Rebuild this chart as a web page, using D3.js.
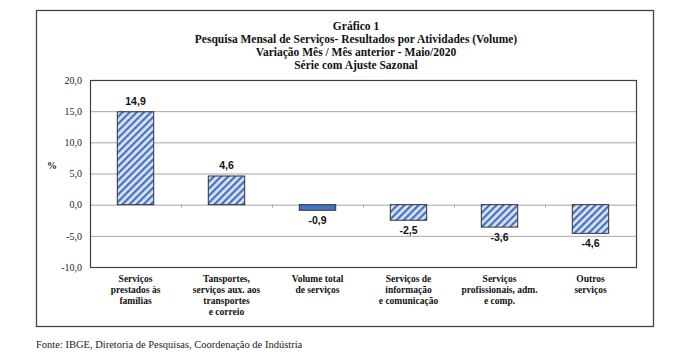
<!DOCTYPE html>
<html><head><meta charset="utf-8">
<script src="https://cdn.jsdelivr.net/npm/d3@7"></script>
<style>body{margin:0;background:#fff}svg{display:block}</style>
</head><body>
<svg id="c" width="680" height="364"></svg>
<script>
const categories = [
  ["Serviços","prestados às","famílias"],
  ["Tansportes,","serviços aux. aos","transportes","e correio"],
  ["Volume total","de serviços"],
  ["Serviços de","informação","e comunicação"],
  ["Serviços","profissionais, adm.","e comp."],
  ["Outros","serviços"]
];
const values = [14.9, 4.6, -0.9, -2.5, -3.6, -4.6];
const highlighted = [false, false, true, false, false, false];
const yTicks = [20, 15, 10, 5, 0, -5, -10];
const titleLines = ["Gráfico 1","Pesquisa Mensal de Serviços- Resultados por Atividades (Volume)","Variação Mês / Mês anterior - Maio/2020","Série com  Ajuste Sazonal"];
const source = "Fonte: IBGE, Diretoria de Pesquisas, Coordenação de Indústria";

const svg = d3.select("#c");
const serif = "'Liberation Serif','DejaVu Serif',serif";
const sans = "'Liberation Sans',Arial,sans-serif";
const fmt = v => d3.format(".1f")(v).replace(".", ",").replace("−","-");

// hatch pattern
const defs = svg.append("defs");
const pat = defs.append("pattern").attr("id","hatch").attr("patternUnits","userSpaceOnUse")
  .attr("width",5).attr("height",5).attr("patternTransform","rotate(45)");
pat.append("rect").attr("width",5).attr("height",5).attr("fill","#dbe2f0");
pat.append("rect").attr("x",0).attr("width",2.2).attr("height",5).attr("fill","#4472c4");

// outer frame
svg.append("rect").attr("x",36.5).attr("y",10.5).attr("width",617).attr("height",316)
  .attr("fill","none").attr("stroke","#444").attr("stroke-width",1.3);

// title
svg.append("g").selectAll("text").data(titleLines).join("text")
  .attr("x",356).attr("y",(d,i)=>29.5+i*13.3).attr("text-anchor","middle")
  .attr("font-family",serif).attr("font-weight","bold").attr("font-size",11.5).attr("fill","#111")
  .text(d=>d);

const L=90, R=636, T=80, B=267;
const x = d3.scaleBand().domain(d3.range(values.length)).range([L,R]).paddingInner(0.6).paddingOuter(0.3);
const xc = d3.scaleBand().domain(d3.range(values.length)).range([L,R]);
const y = d3.scaleLinear().domain([-10,20]).range([B,T]);

// gridlines
svg.append("g").selectAll("line").data(yTicks.filter(t=>t!==20 && t!==-10)).join("line")
  .attr("x1",L).attr("x2",R).attr("y1",d=>y(d)+0.5).attr("y2",d=>y(d)+0.5)
  .attr("stroke","#a6a6a6").attr("stroke-width",1);

// category tick marks on zero line
svg.append("g").selectAll("line").data(d3.range(1,values.length)).join("line")
  .attr("x1",d=>xc(d)+0.5).attr("x2",d=>xc(d)+0.5).attr("y1",y(0)).attr("y2",y(0)+3)
  .attr("stroke","#a6a6a6");

// plot border
svg.append("rect").attr("x",L+0.5).attr("y",T+0.5).attr("width",R-L).attr("height",B-T)
  .attr("fill","none").attr("stroke","#404040").attr("stroke-width",1.2);

// y axis labels
const yAxis = d3.axisLeft(y).tickValues(yTicks).tickSize(0).tickPadding(0).tickFormat(fmt);
const ya = svg.append("g").attr("transform",`translate(${82},0)`).call(yAxis);
ya.select(".domain").remove();
ya.selectAll("text").attr("font-family",serif).attr("font-size",10).attr("fill","#222");

svg.append("text").attr("x",52).attr("y",169).attr("text-anchor","middle")
  .attr("font-family",serif).attr("font-weight","bold").attr("font-size",10).attr("fill","#222").text("%");

// bars
svg.append("g").selectAll("rect").data(values).join("rect")
  .attr("x",(d,i)=>x(i)).attr("width",x.bandwidth())
  .attr("y",d=>y(Math.max(0,d))).attr("height",d=>Math.abs(y(d)-y(0)))
  .attr("fill",(d,i)=>highlighted[i]?"#4472c4":"url(#hatch)")
  .attr("stroke","#333").attr("stroke-width",1);

// value labels
svg.append("g").selectAll("text").data(values).join("text")
  .attr("x",(d,i)=>x(i)+x.bandwidth()/2)
  .attr("y",d=>d>=0? y(d)-7 : y(d)+14)
  .attr("text-anchor","middle").attr("font-family",sans).attr("font-weight","bold")
  .attr("font-size",10.5).attr("fill","#111").text(fmt);

// category labels
const cg = svg.append("g").selectAll("text").data(categories).join("text")
  .attr("x",(d,i)=>xc(i)+xc.bandwidth()/2).attr("y",282)
  .attr("text-anchor","middle").attr("font-family",serif).attr("font-weight","bold")
  .attr("font-size",9.5).attr("fill","#111");
cg.selectAll("tspan").data(d=>d).join("tspan")
  .attr("x",function(){return this.parentNode.getAttribute("x");})
  .attr("dy",(d,i)=>i===0?0:11).text(d=>d);

// source
svg.append("text").attr("x",36).attr("y",348).attr("font-family",serif).attr("font-size",10.5)
  .attr("fill","#222").text(source);
</script>
</body></html>
